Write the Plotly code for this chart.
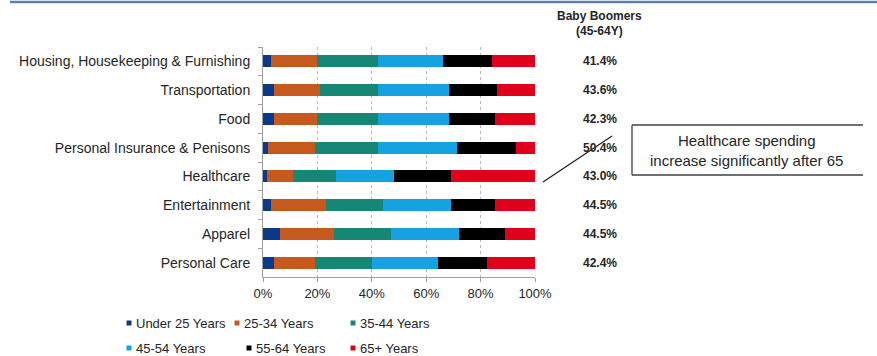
import plotly.graph_objects as go

categories = ["Housing, Housekeeping & Furnishing", "Transportation", "Food",
              "Personal Insurance & Penisons", "Healthcare", "Entertainment",
              "Apparel", "Personal Care"]
series_names = ["Under 25 Years", "25-34 Years", "35-44 Years",
                "45-54 Years", "55-64 Years", "65+ Years"]
under25 = [3.1, 4.0, 4.0, 2.0, 1.6, 3.1, 6.1, 4.0]
y25_34 = [16.8, 17.1, 16.0, 17.0, 9.4, 19.9, 19.9, 15.0]
y35_44 = [22.2, 21.0, 22.1, 23.1, 16.0, 21.0, 21.0, 21.1]
y45_54 = [23.9, 26.1, 26.1, 29.1, 21.2, 25.2, 25.0, 24.1]
y55_64 = [18.2, 17.9, 17.0, 21.9, 20.8, 16.1, 17.1, 18.0]
y65plus = [15.8, 13.9, 14.8, 6.9, 31.0, 14.7, 10.9, 17.8]
boomer_labels = ["41.4%", "43.6%", "42.3%", "50.4%", "43.0%", "44.5%", "44.5%", "42.4%"]
x_ticks = [0, 20, 40, 60, 80, 100]
x_tick_labels = ["0%", "20%", "40%", "60%", "80%", "100%"]

colors = ["#0b3a8a", "#c65a1e", "#168676", "#14a3e0", "#000000", "#e0001b"]
series = [under25, y25_34, y35_44, y45_54, y55_64, y65plus]

W, H = 877, 356
L, R, T, B = 263, 535, 47, 277
FONT = "Liberation Sans, Arial, sans-serif"
TXT = "#262626"

def px(x):
    return (x - L) / (R - L)

def py(y):
    return (B - y) / (B - T)

fig = go.Figure()
for name, vals, col in zip(series_names, series, colors):
    fig.add_trace(go.Bar(y=categories, x=vals, name=name, orientation="h",
                         marker=dict(color=col, line=dict(width=0)),
                         showlegend=False))

shapes = []
annotations = []

# Right-side values
for cat, lab in zip(categories, boomer_labels):
    annotations.append(dict(x=px(600), y=cat, xref="paper", yref="y", text=lab,
                            showarrow=False, xanchor="center", yanchor="middle",
                            font=dict(family=FONT, size=12, color=TXT, weight="bold")))
annotations.append(dict(x=px(599), y=py(16), xref="paper", yref="paper",
                        text="Baby Boomers", showarrow=False, xanchor="center",
                        yanchor="middle", font=dict(family=FONT, size=12, color=TXT, weight="bold")))
annotations.append(dict(x=px(599), y=py(31), xref="paper", yref="paper",
                        text="(45-64Y)", showarrow=False, xanchor="center",
                        yanchor="middle", font=dict(family=FONT, size=12, color=TXT, weight="bold")))

# Callout box (open on the right) and pointer line
box_line = dict(color="#404040", width=1.3)
for (x0, y0, x1, y1) in [(632, 125, 863, 125), (632, 175, 863, 175), (632, 125, 632, 175)]:
    shapes.append(dict(type="line", xref="paper", yref="paper",
                       x0=px(x0), y0=py(y0), x1=px(x1), y1=py(y1), line=box_line))
shapes.append(dict(type="line", xref="paper", yref="paper",
                   x0=px(543), y0=py(182), x1=px(612), y1=py(136),
                   line=dict(color="#1a1a1a", width=1.2)))
annotations.append(dict(x=px(746), y=py(150), xref="paper", yref="paper",
                        text="Healthcare spending<br>increase significantly after 65",
                        showarrow=False, xanchor="center", yanchor="middle", align="center",
                        font=dict(family=FONT, size=15, color=TXT)))

# Top blue rule
shapes.append(dict(type="line", xref="paper", yref="paper",
                   x0=px(10), y0=py(2), x1=px(880), y1=py(2),
                   line=dict(color="#5b7fb3", width=2.5)))

# Manual legend
legend_pos = [(129, 323), (237, 323), (353, 323), (129, 348), (249, 348), (353, 348)]
for (cx, cy), name, col in zip(legend_pos, series_names, colors):
    shapes.append(dict(type="rect", xref="paper", yref="paper",
                       x0=px(cx - 2.5), x1=px(cx + 2.5), y0=py(cy - 2.5), y1=py(cy + 2.5),
                       fillcolor=col, line=dict(width=0)))
    annotations.append(dict(x=px(cx + 5), y=py(cy), xref="paper", yref="paper",
                            text=name, showarrow=False, xanchor="left", yanchor="middle",
                            font=dict(family=FONT, size=13, color=TXT)))

fig.update_layout(
    width=W, height=H,
    margin=dict(l=L, r=W - R, t=T, b=H - B, pad=0),
    barmode="stack", bargap=0.59,
    paper_bgcolor="white", plot_bgcolor="white",
    font=dict(family=FONT, color=TXT),
    shapes=shapes, annotations=annotations,
    xaxis=dict(range=[0, 100], tickvals=x_ticks, ticktext=x_tick_labels,
               showgrid=True, gridcolor="#b8b8b8", griddash="dot", gridwidth=1,
               showline=True, linecolor="#a0a0a0", linewidth=1,
               ticks="outside", ticklen=4, tickcolor="#a0a0a0",
               tickfont=dict(family=FONT, size=13, color=TXT), zeroline=False,
               fixedrange=True),
    yaxis=dict(autorange="reversed", showline=True, linecolor="#a0a0a0", linewidth=1,
               ticks="outside", ticklen=4, tickcolor="#a0a0a0", tickson="boundaries",
               ticklabelstandoff=9,
               tickfont=dict(family=FONT, size=14, color=TXT), showgrid=False,
               fixedrange=True),
)

fig.write_html("out.html", config={"displayModeBar": False},
               post_script="document.body.style.margin='0';document.body.style.overflow='hidden';")
